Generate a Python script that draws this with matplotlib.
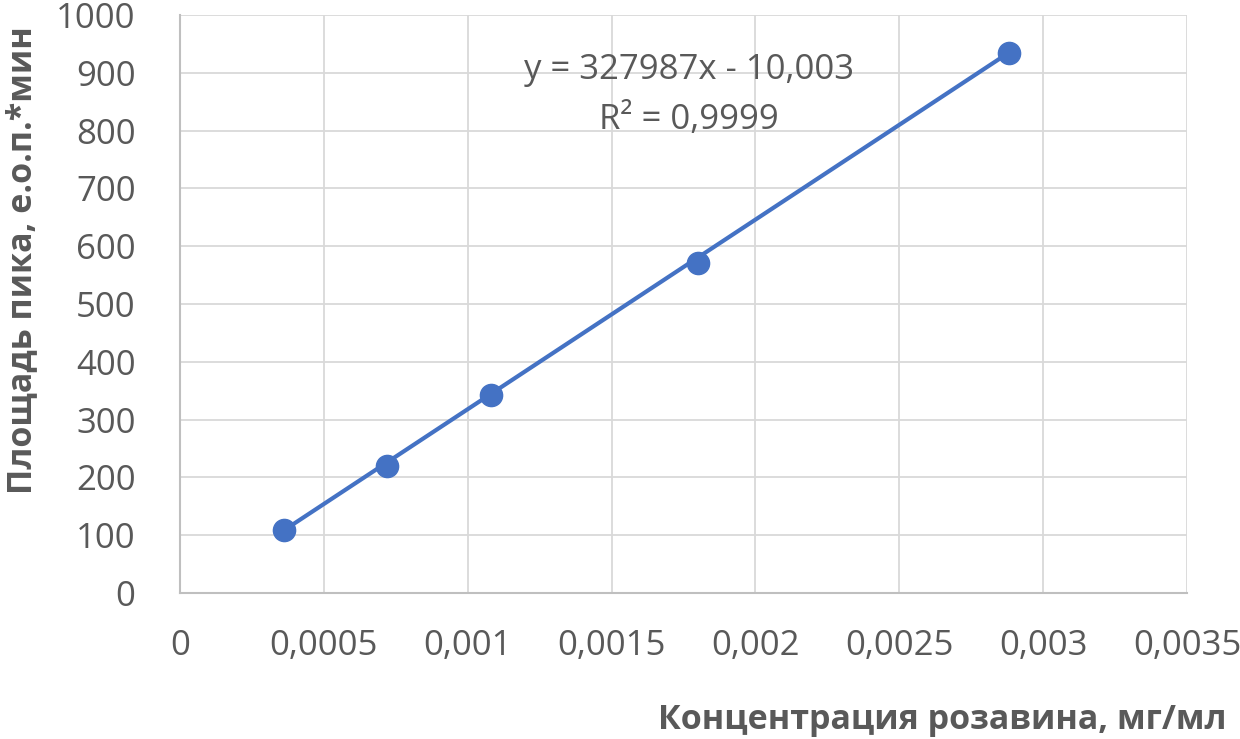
import numpy as np
import matplotlib
matplotlib.use("Agg")
import matplotlib.pyplot as plt
from matplotlib.ticker import FuncFormatter

# concentration, mg/ml and peak area
conc = [0.00036, 0.00072, 0.00108, 0.0018, 0.00288]
area = [109, 219, 343, 571, 935]
slope = 327987
intercept = -10.003
r2 = 0.9999

x_ticks = [0, 0.0005, 0.001, 0.0015, 0.002, 0.0025, 0.003, 0.0035]
y_ticks = list(range(0, 1001, 100))

blue = "#4472C4"
txt = "#595959"
plt.rcParams["font.family"] = ["Open Sans", "DejaVu Sans"]

fig = plt.figure(figsize=(12.4, 7.39), dpi=100)
ax = fig.add_axes([180 / 1240, 1 - 593 / 739, 1007 / 1240, 578 / 739])

xs = np.array([min(conc), max(conc)])
ax.plot(xs, slope * xs + intercept, color=blue, lw=3, zorder=3)
ax.plot(conc, area, "o", color=blue, ms=16, zorder=4)

ax.set_xlim(0, 0.0035)
ax.set_ylim(0, 1000)
ax.set_xticks(x_ticks)
ax.set_yticks(y_ticks)
ax.xaxis.set_major_formatter(FuncFormatter(lambda v, p: "0" if v == 0 else ("%g" % v).replace(".", ",")))
ax.grid(True, color="#d9d9d9", lw=1.3)
ax.set_axisbelow(True)
for s in ["top", "right"]:
    ax.spines[s].set_visible(False)
for s in ["left", "bottom"]:
    ax.spines[s].set_color("#bfbfbf")
    ax.spines[s].set_linewidth(1.5)
ax.tick_params(length=0, labelsize=25, colors=txt)
ax.tick_params(axis="x", pad=26)
ax.tick_params(axis="y", pad=32)

eq = "y = %dx - %s\nR² = %s" % (slope, ("%.3f" % -intercept).replace(".", ","), ("%.4f" % r2).replace(".", ","))
ax.text(0.00177, 862, eq, ha="center", va="center", fontsize=25, color=txt, linespacing=1.6)

fig.text(1226 / 1240, 1 - 720 / 739, "Концентрация розавина, мг/мл", ha="right", va="center",
         fontsize=24.5, fontweight="bold", color=txt)
fig.text(22 / 1240, 1 - 260 / 739, "Площадь пика, е.о.п.*мин", ha="center", va="center",
         rotation=90, fontsize=24.5, fontweight="bold", color=txt)

fig.savefig("out.png", dpi=100)
